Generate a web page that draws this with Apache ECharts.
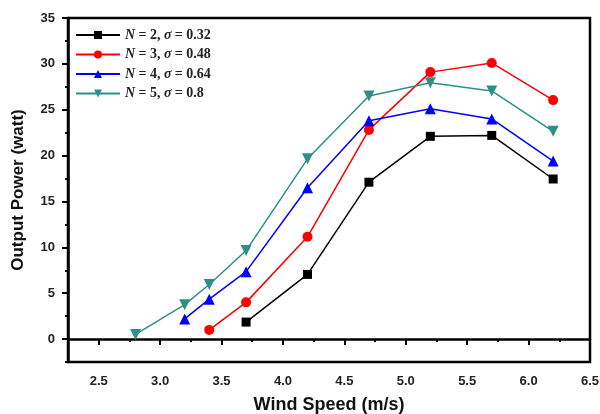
<!DOCTYPE html>
<html>
<head>
<meta charset="utf-8">
<script src="https://cdn.jsdelivr.net/npm/echarts@6/dist/echarts.min.js"></script>
<style>html,body{margin:0;padding:0;background:#fff;}#c{width:600px;height:414px;}</style>
</head>
<body>
<div id="c"></div>
<script>
var xN2 = [3.7, 4.2, 4.7, 5.2, 5.7, 6.2];
var yN2 = [1.85, 7.05, 17.1, 22.1, 22.2, 17.45];
var xN3 = [3.4, 3.7, 4.2, 4.7, 5.2, 5.7, 6.2];
var yN3 = [1.0, 4.0, 11.15, 22.8, 29.1, 30.1, 26.05];
var xN4 = [3.2, 3.4, 3.7, 4.2, 4.7, 5.2, 5.7, 6.2];
var yN4 = [2.2, 4.35, 7.35, 16.5, 23.8, 25.1, 24.0, 19.4];
var xN5 = [2.8, 3.2, 3.4, 3.7, 4.2, 4.7, 5.2, 5.7, 6.2];
var yN5 = [0.5, 3.75, 5.95, 9.65, 19.65, 26.5, 27.95, 27.05, 22.65];
var seriesNames = ['N = 2, σ = 0.32', 'N = 3, σ = 0.48', 'N = 4, σ = 0.64', 'N = 5, σ = 0.8'];
var legendN = ['2', '3', '4', '5'];
var legendSigma = ['0.32', '0.48', '0.64', '0.8'];
var xMajorTicks = [2.5, 3.0, 3.5, 4.0, 4.5, 5.0, 5.5, 6.0, 6.5];
var xMinorTicks = [2.25, 2.75, 3.25, 3.75, 4.25, 4.75, 5.25, 5.75, 6.25];
var yMajorTicks = [0, 5, 10, 15, 20, 25, 30, 35];
var yMinorTicks = [-2.5, 2.5, 7.5, 12.5, 17.5, 22.5, 27.5, 32.5];

function pairs(xs, ys) { return xs.map(function (x, i) { return [x, ys[i]]; }); }

var chart = echarts.init(document.getElementById('c'), null, {renderer: 'canvas'});
var labelFont = {fontFamily: 'Liberation Sans, Arial, sans-serif', fontWeight: 'bold', fontSize: 13, color: '#222'};
var colors = ['#000000', '#ff0000', '#0000ff', '#2f8f87'];
var symbols = ['rect', 'circle', 'triangle', 'triangle'];
var sizes = [9, 10, 11, 11];
var rotates = [0, 0, 0, 180];
var datas = [pairs(xN2, yN2), pairs(xN3, yN3), pairs(xN4, yN4), pairs(xN5, yN5)];

var series = datas.map(function (d, i) {
  return {
    name: seriesNames[i], type: 'line', data: d,
    xAxisIndex: 0, yAxisIndex: 0,
    symbol: symbols[i], symbolSize: sizes[i], symbolRotate: rotates[i],
    lineStyle: {color: colors[i], width: 1.5},
    itemStyle: {color: colors[i]},
    animation: false
  };
});

var option = {
  animation: false,
  grid: {left: 68, right: 10, top: 18, bottom: 52, containLabel: false, outerBoundsMode: 'none', show: true, borderColor: '#000', borderWidth: 2.5, backgroundColor: 'transparent'},
  legend: {
    orient: 'vertical', left: 70, top: 23, itemWidth: 44, itemHeight: 10, itemGap: 5.5,
    data: seriesNames,
    formatter: function (name) {
      var i = seriesNames.indexOf(name);
      return '{i|N} {t|= ' + legendN[i] + ', }{i|σ} {t|= ' + legendSigma[i] + '}';
    },
    textStyle: {
      rich: {
        i: {fontFamily: 'Liberation Serif, Times New Roman, serif', fontStyle: 'italic', fontWeight: 'bold', fontSize: 14, color: '#222', lineHeight: 14},
        t: {fontFamily: 'Liberation Serif, Times New Roman, serif', fontWeight: 'bold', fontSize: 14, color: '#222', lineHeight: 14}
      }
    }
  },
  xAxis: [{
    type: 'value', min: 2.25, max: 6.5,
    name: 'Wind Speed (m/s)', nameLocation: 'middle', nameGap: 34,
    nameTextStyle: {fontFamily: 'Liberation Sans, Arial, sans-serif', fontWeight: 'bold', fontSize: 18, color: '#111'},
    axisLine: {show: true, lineStyle: {color: '#000', width: 2.5}},
    axisTick: {show: true, customValues: xMajorTicks, length: 6, lineStyle: {color: '#000', width: 2}},
    axisLabel: Object.assign({customValues: xMajorTicks, margin: 13, formatter: function (v) { return v.toFixed(1); }}, labelFont),
    splitLine: {show: false}
  }, {
    type: 'value', min: 2.25, max: 6.5, position: 'bottom',
    axisLine: {show: false},
    axisTick: {show: true, customValues: xMinorTicks, length: 3, lineStyle: {color: '#000', width: 2}},
    axisLabel: {show: false},
    splitLine: {show: false}
  }],
  yAxis: [{
    type: 'value', min: -2.5, max: 35,
    name: 'Output Power (watt)', nameLocation: 'middle', nameGap: 41, nameRotate: 90,
    nameTextStyle: {fontFamily: 'Liberation Sans, Arial, sans-serif', fontWeight: 'bold', fontSize: 17, color: '#111'},
    axisLine: {show: true, lineStyle: {color: '#000', width: 2.5}},
    axisTick: {show: true, customValues: yMajorTicks, length: 6, lineStyle: {color: '#000', width: 2}},
    axisLabel: Object.assign({customValues: yMajorTicks, margin: 13}, labelFont),
    splitLine: {show: false}
  }, {
    type: 'value', min: -2.5, max: 35, position: 'left',
    axisLine: {show: false},
    axisTick: {show: true, customValues: yMinorTicks, length: 3, lineStyle: {color: '#000', width: 2}},
    axisLabel: {show: false},
    splitLine: {show: false}
  }],
  series: series
};
chart.setOption(option);
</script>
</body>
</html>
